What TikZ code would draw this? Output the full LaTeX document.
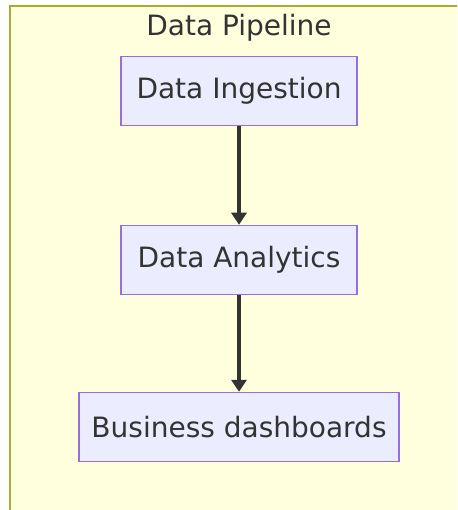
\documentclass[tikz,border=0pt]{standalone}
\usepackage{fontspec}
\setmainfont{DejaVu Sans}
\usetikzlibrary{arrows.meta}

\definecolor{groupfill}{HTML}{FFFFDE}
\definecolor{groupline}{HTML}{AAAA33}
\definecolor{stagefill}{HTML}{ECECFF}
\definecolor{stageline}{HTML}{9370DB}
\definecolor{inkgray}{HTML}{333333}

\tikzset{
    stage/.style={draw=stageline, fill=stagefill, line width=1.5pt,
        minimum height=69pt, inner xsep=4pt, text=inkgray,
        font=\fontsize{28}{32}\selectfont},
    flow/.style={draw=inkgray, line width=3.5pt,
        -{Triangle[width=15pt, length=12pt]}}
}

\begin{document}
\begin{tikzpicture}[x=1pt, y=-1pt]
    % Page size in pixels
    \useasboundingbox (0,0) rectangle (457,510);
    \clip (0,0) rectangle (457,510);
    \fill[white] (0,0) rectangle (457,510);

    % Group box (runs off the right and bottom edges)
    \draw[fill=groupfill, draw=groupline, line width=1.5pt] (10,6) rectangle (480,540);
    \node[text=inkgray, font=\fontsize{28}{32}\selectfont] (title) at (239,28) {Data Pipeline};

    % Pipeline stages
    \node[stage, minimum width=236pt] (ingest) at (239,91) {Data Ingestion};
    \node[stage, minimum width=236pt] (analytics) at (239,260) {Data Analytics};
    \node[stage, minimum width=320pt] (dash) at (239,427) {Business dashboards};

    % Arrows between stages
    \draw[flow] (ingest) -- (analytics);
    \draw[flow] (analytics) -- (dash);
\end{tikzpicture}
\end{document}
